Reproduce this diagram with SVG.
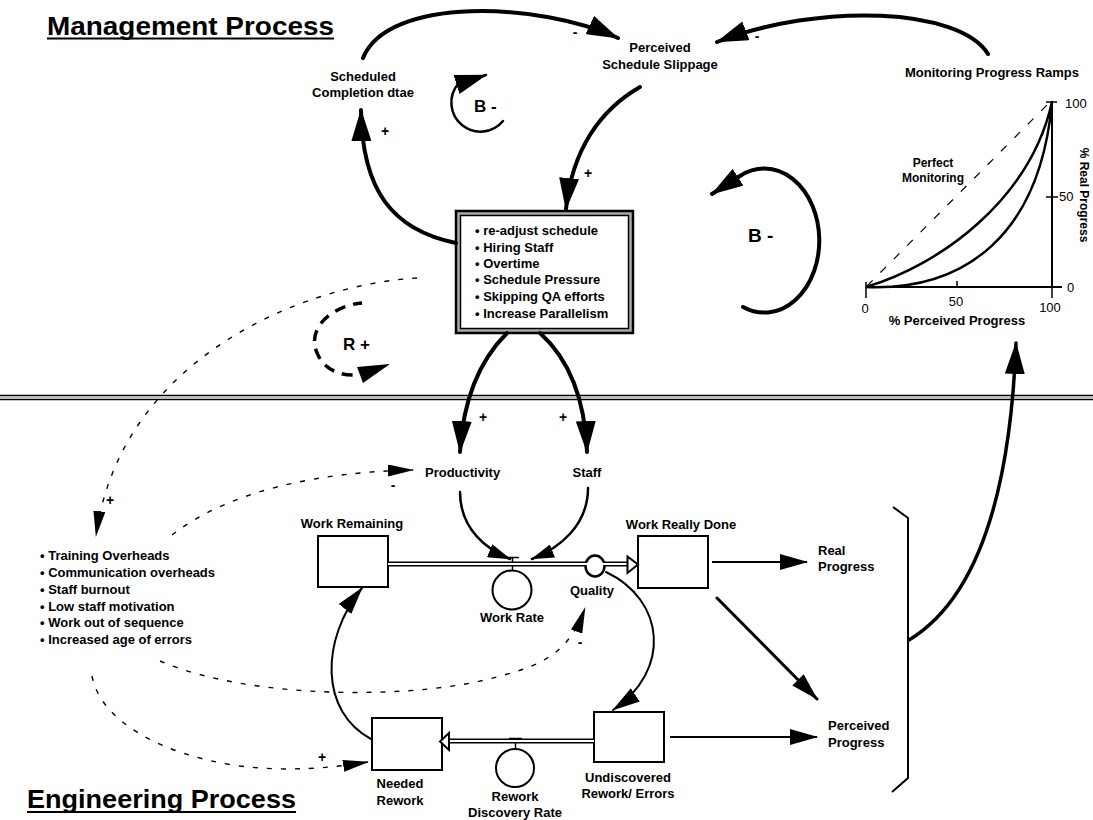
<svg xmlns="http://www.w3.org/2000/svg" width="1093" height="820" viewBox="0 0 1093 820">
  <style>
    text { font-family: "Liberation Sans", Arial, sans-serif; font-weight: bold; fill: #000; }
    .title { font-size: 26px; }
    .lbl { font-size: 13px; text-anchor: middle; }
    .lst { font-size: 13px; }
    .sign { font-size: 14px; text-anchor: middle; }
    .loop { font-size: 17px; }
    .num { font-size: 13px; font-weight: normal; }
    .thick { fill: none; stroke: #000; stroke-width: 4; stroke-linecap: round; }
    .med { fill: none; stroke: #000; stroke-width: 2.5; stroke-linecap: round; }
    .thin { fill: none; stroke: #000; stroke-width: 1.8; }
    .dot { fill: none; stroke: #000; stroke-width: 1.4; stroke-dasharray: 5 9; }
    .rdash { fill: none; stroke: #000; stroke-width: 3.5; stroke-dasharray: 11 8; }
    .stock { fill: #fff; stroke: #000; stroke-width: 2; }
    .pipeo { fill: none; stroke: #000; stroke-width: 5; }
    .pipei { fill: none; stroke: #fff; stroke-width: 2; }
  </style>
  <defs>
    <marker id="ahL" markerUnits="userSpaceOnUse" markerWidth="32" markerHeight="20" refX="31" refY="10" orient="auto">
      <path d="M0,0 L32,10 L0,20 z" fill="#000"/>
    </marker>
    <marker id="ahM" markerUnits="userSpaceOnUse" markerWidth="28" markerHeight="16" refX="27" refY="8" orient="auto">
      <path d="M0,0 L28,8 L0,16 z" fill="#000"/>
    </marker>
    <marker id="ahS" markerUnits="userSpaceOnUse" markerWidth="23" markerHeight="14" refX="22" refY="7" orient="auto">
      <path d="M0,0 L23,7 L0,14 z" fill="#000"/>
    </marker>
    <marker id="ahD" markerUnits="userSpaceOnUse" markerWidth="26" markerHeight="12" refX="25" refY="6" orient="auto">
      <path d="M0,0 L26,6 L0,12 z" fill="#000"/>
    </marker>
  </defs>

  <!-- section titles -->
  <g id="title-management">
    <text class="title" x="47" y="35" textLength="287" lengthAdjust="spacingAndGlyphs">Management Process</text>
    <line x1="47" y1="38.5" x2="334" y2="38.5" stroke="#000" stroke-width="2"/>
  </g>
  <g id="title-engineering">
    <text class="title" x="27" y="808" textLength="269" lengthAdjust="spacingAndGlyphs">Engineering Process</text>
    <line x1="27" y1="812" x2="296" y2="812" stroke="#000" stroke-width="2"/>
  </g>

  <!-- divider between management and engineering -->
  <g id="divider">
    <line x1="0" y1="395.5" x2="1093" y2="395.5" stroke="#000" stroke-width="1.5"/>
    <line x1="0" y1="399.5" x2="1093" y2="399.5" stroke="#000" stroke-width="1.5"/>
    <line x1="0" y1="397.5" x2="1093" y2="397.5" stroke="#bbb" stroke-width="1"/>
  </g>

  <!-- management variables -->
  <g id="scheduled-completion">
    <text class="lbl" x="363" y="81">Scheduled</text>
    <text class="lbl" x="363" y="97">Completion dtae</text>
  </g>
  <g id="perceived-slippage">
    <text class="lbl" x="660" y="52">Perceived</text>
    <text class="lbl" x="660" y="69">Schedule Slippage</text>
  </g>

  <g id="actions-box">
    <rect x="456" y="211" width="177" height="122" fill="#aaa" stroke="#000" stroke-width="2.5"/>
    <rect x="460.5" y="215.5" width="168" height="113" fill="#fff" stroke="#000" stroke-width="1.5"/>
    <text class="lst" x="475" y="235">• re-adjust schedule</text>
    <text class="lst" x="475" y="252">• Hiring Staff</text>
    <text class="lst" x="475" y="268">• Overtime</text>
    <text class="lst" x="475" y="284">• Schedule Pressure</text>
    <text class="lst" x="475" y="301">• Skipping QA efforts</text>
    <text class="lst" x="475" y="318">• Increase Parallelism</text>
  </g>

  <!-- monitoring progress ramps chart -->
  <g id="monitoring-ramps">
    <text class="lbl" x="992" y="77">Monitoring Progress Ramps</text>
    <line x1="866" y1="287" x2="1062" y2="287" stroke="#000" stroke-width="2"/>
    <line x1="1052" y1="287" x2="1052" y2="101" stroke="#000" stroke-width="2"/>
    <line x1="1046" y1="102" x2="1057" y2="102" stroke="#000" stroke-width="1.5"/>
    <line x1="1046" y1="197" x2="1058" y2="197" stroke="#000" stroke-width="1.5"/>
    <line x1="866" y1="282" x2="866" y2="298" stroke="#000" stroke-width="1.5"/>
    <line x1="957" y1="281" x2="957" y2="287" stroke="#000" stroke-width="1.5"/>
    <line x1="1052" y1="287" x2="1052" y2="298" stroke="#000" stroke-width="1.5"/>
    <path d="M867,286 L1048,104" fill="none" stroke="#000" stroke-width="1.2" stroke-dasharray="8 11"/>
    <path d="M866,287 C940,265 1030,200 1052,102" fill="none" stroke="#000" stroke-width="2.5"/>
    <path d="M866,287 C965,291 1040,235 1052,102" fill="none" stroke="#000" stroke-width="2.5"/>
    <text class="lbl" x="933" y="167" style="font-size:12px">Perfect</text>
    <text class="lbl" x="933" y="182" style="font-size:12px">Monitoring</text>
    <text class="num" x="1065" y="108">100</text>
    <text class="num" x="1059" y="201">50</text>
    <text class="num" x="1067" y="292">0</text>
    <text class="num" x="865" y="313" text-anchor="middle">0</text>
    <text class="num" x="956" y="306" text-anchor="middle">50</text>
    <text class="num" x="1050" y="312" text-anchor="middle">100</text>
    <text class="lbl" x="957" y="325">% Perceived Progress</text>
    <text class="lbl" transform="translate(1080,195) rotate(90)" style="font-size:12px">% Real Progress</text>
  </g>

  <!-- engineering variables -->
  <g id="productivity">
    <text class="lst" x="425" y="477">Productivity</text>
  </g>
  <g id="staff">
    <text class="lbl" x="587" y="477">Staff</text>
  </g>
  <g id="work-remaining">
    <text class="lbl" x="352" y="528">Work Remaining</text>
    <rect class="stock" x="318" y="536" width="70" height="51"/>
  </g>
  <g id="work-really-done">
    <text class="lbl" x="681" y="529">Work Really Done</text>
    <rect class="stock" x="638" y="536" width="70" height="52"/>
  </g>
  <g id="work-rate">
    <line x1="506" y1="557.5" x2="519" y2="557.5" stroke="#000" stroke-width="1.5"/>
    <line x1="512.5" y1="557" x2="512.5" y2="571" stroke="#000" stroke-width="1.5"/>
    <circle cx="512" cy="590" r="19.5" fill="#fff" stroke="#000" stroke-width="2"/>
    <text class="lbl" x="512" y="622">Work Rate</text>
  </g>
  <g id="quality">
    <ellipse cx="595" cy="566" rx="9.5" ry="10.5" fill="#fff" stroke="#000" stroke-width="2.5"/>
    <text class="lbl" x="592" y="595">Quality</text>
  </g>
  <g id="real-progress">
    <text class="lst" x="818" y="555">Real</text>
    <text class="lst" x="818" y="571">Progress</text>
  </g>
  <g id="perceived-progress">
    <text class="lst" x="828" y="730">Perceived</text>
    <text class="lst" x="828" y="747">Progress</text>
    <path d="M893,507 L908,518 L908,778 L892,792" fill="none" stroke="#000" stroke-width="2"/>
  </g>
  <g id="side-effects">
    <text class="lst" x="40" y="560">• Training Overheads</text>
    <text class="lst" x="40" y="577">• Communication overheads</text>
    <text class="lst" x="40" y="594">• Staff  burnout</text>
    <text class="lst" x="40" y="611">• Low staff  motivation</text>
    <text class="lst" x="40" y="627">• Work out of sequence</text>
    <text class="lst" x="40" y="644">• Increased age of errors</text>
  </g>
  <g id="needed-rework">
    <rect class="stock" x="372" y="718" width="70" height="52"/>
    <text class="lbl" x="400" y="788">Needed</text>
    <text class="lbl" x="400" y="805">Rework</text>
  </g>
  <g id="rework-discovery-rate">
    <line x1="509" y1="738.5" x2="522" y2="738.5" stroke="#000" stroke-width="1.5"/>
    <line x1="515.5" y1="738" x2="515.5" y2="749" stroke="#000" stroke-width="1.5"/>
    <circle cx="515" cy="768" r="19" fill="#fff" stroke="#000" stroke-width="2"/>
    <text class="lbl" x="515" y="801">Rework</text>
    <text class="lbl" x="515" y="817">Discovery Rate</text>
  </g>
  <g id="undiscovered-rework">
    <rect class="stock" x="594" y="712" width="70" height="50"/>
    <text class="lbl" x="628" y="782">Undiscovered</text>
    <text class="lbl" x="628" y="798">Rework/ Errors</text>
  </g>

  <!-- loop polarity labels -->
  <g id="loops">
    <text class="loop" x="474" y="112">B -</text>
    <text class="loop" x="748" y="242" style="font-size:19px">B -</text>
    <text class="loop" x="343" y="350">R +</text>
  </g>

  <!-- connectors -->
  <g id="connectors">
    <!-- stock and flow pipes -->
    <path class="pipeo" d="M388,564 L586,564 M604,564 L628,564"/>
    <path class="pipei" d="M388,564 L587,564 M603,564 L628,564"/>
    <path d="M627.5,556.5 L638,564.5 L627.5,573 z" fill="#fff" stroke="#000" stroke-width="2"/>
    <path class="pipeo" d="M449,741 L594,741"/>
    <path class="pipei" d="M449,741 L594,741"/>
    <path d="M449,733 L440,741.5 L449,750 z" fill="#fff" stroke="#000" stroke-width="2"/>

    <!-- management loop -->
    <path class="thick" d="M456,243 C392,230 362,190 361,110" marker-end="url(#ahL)"/>
    <path class="thick" d="M363,58 C388,-4 540,2 618,38" marker-end="url(#ahL)"/>
    <path class="thick" d="M988,54 C960,8 820,2 717,42" marker-end="url(#ahL)"/>
    <path class="thick" d="M640,87 C600,110 572,150 566,209" marker-end="url(#ahL)"/>
    <path class="med" d="M503,121 A28,28 0 1 1 458,84 L486,75" marker-end="url(#ahL)"/>
    <path class="thick" d="M743,307 A55,72 0 1 0 740,176 L712,194" marker-end="url(#ahL)"/>
    <path class="rdash" d="M362,303 C330,306 305,330 318,355 C325,370 340,376 358,375" stroke-dashoffset="2"/>
    <path d="M357,367 L390,364 L363,383 z" fill="#000"/>

    <!-- actions into engineering -->
    <path class="thick" d="M507,333 C480,360 463,400 460,452" marker-end="url(#ahL)"/>
    <path class="thick" d="M540,333 C570,360 585,400 587,452" marker-end="url(#ahL)"/>
    <path class="med" d="M460,492 C460,530 488,550 510,559" marker-end="url(#ahS)"/>
    <path class="med" d="M588,488 C588,525 560,548 532,559" marker-end="url(#ahS)"/>

    <!-- side effects -->
    <path class="dot" d="M417,278 C300,285 120,360 96,536" marker-end="url(#ahD)"/>
    <path class="dot" d="M172,535 C230,490 320,472 413,470" marker-end="url(#ahD)"/>
    <path class="dot" d="M160,661 C250,700 420,700 500,676 C545,665 570,650 585,608" marker-end="url(#ahD)"/>
    <path class="dot" d="M92,676 C100,720 160,755 240,766 C290,772 330,768 368,762" marker-end="url(#ahD)"/>
    <text class="sign" x="110" y="505">+</text>
    <text class="sign" x="393" y="490">-</text>
    <text class="sign" x="580" y="647">-</text>
    <text class="sign" x="322" y="762">+</text>

    <!-- rework cycle -->
    <path class="med" d="M606,572 C665,600 672,670 613,710" marker-end="url(#ahM)" style="stroke-width:2"/>
    <path class="med" d="M371,739 C320,712 320,640 362,588" marker-end="url(#ahM)" style="stroke-width:2"/>

    <!-- progress measures -->
    <path class="thin" d="M712,562 L807,562" marker-end="url(#ahM)"/>
    <path class="thick" d="M717,598 L817,699" marker-end="url(#ahM)" style="stroke-width:3"/>
    <path class="thin" d="M670,737 L817,737" marker-end="url(#ahM)"/>
    <path class="thick" d="M909,640 C975,600 1010,500 1016,343" marker-end="url(#ahL)" style="stroke-width:3.5"/>

    <!-- polarity signs -->
    <text class="sign" x="385" y="136">+</text>
    <text class="sign" x="575" y="37">-</text>
    <text class="sign" x="757" y="41">-</text>
    <text class="sign" x="588" y="178">+</text>
    <text class="sign" x="483" y="422">+</text>
    <text class="sign" x="563" y="422">+</text>
  </g>
</svg>
